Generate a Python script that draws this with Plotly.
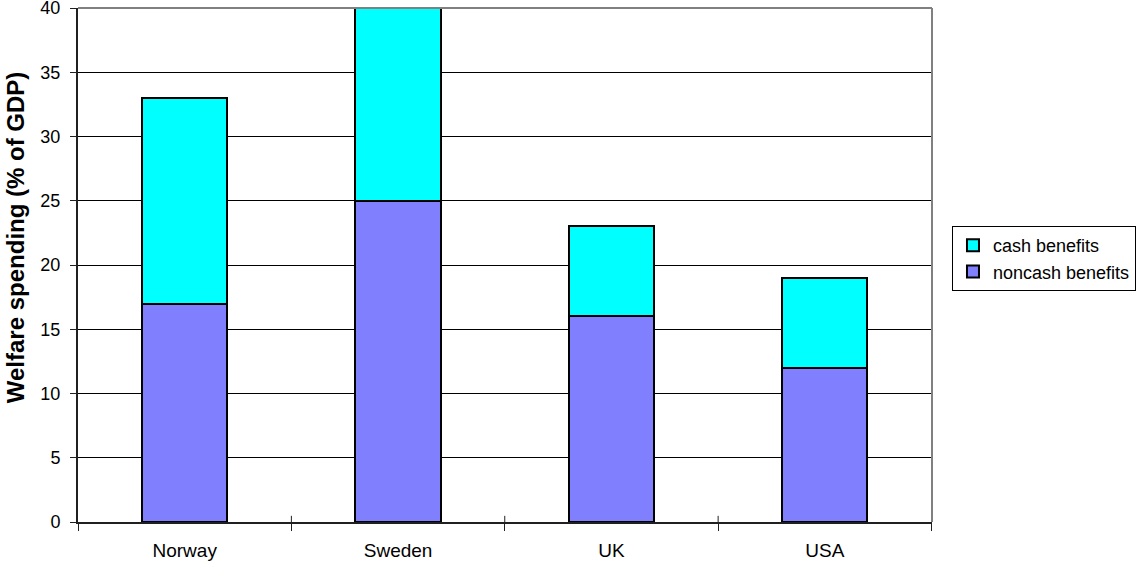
import plotly.graph_objects as go

countries = ["Norway", "Sweden", "UK", "USA"]
noncash = [17, 25, 16, 12]
cash = [16, 15, 7, 7]
y_ticks = [0, 5, 10, 15, 20, 25, 30, 35, 40]
y_title = "Welfare spending (% of GDP)"

FONT = "Liberation Sans, Arial, sans-serif"

fig = go.Figure()
fig.add_trace(go.Bar(x=countries, y=noncash, name="noncash benefits",
                     marker=dict(color="#8080FF", line=dict(color="black", width=2)),
                     width=0.4, legendrank=2))
fig.add_trace(go.Bar(x=countries, y=cash, name="cash benefits",
                     marker=dict(color="#00FFFF", line=dict(color="black", width=2)),
                     width=0.4, legendrank=1))

fig.update_layout(
    barmode="stack",
    width=1136, height=563,
    margin=dict(l=78, r=204, t=8, b=41, autoexpand=False),
    plot_bgcolor="white", paper_bgcolor="white",
    font=dict(family=FONT, size=19, color="black"),
    legend=dict(x=1.0234, y=0.576, xanchor="left", yanchor="top",
                traceorder="normal",
                bordercolor="black", borderwidth=1,
                font=dict(size=18), bgcolor="white", itemwidth=30),
    showlegend=True,
)
fig.update_xaxes(
    tickson="boundaries", ticks="outside", ticklen=7, tickcolor="#202020", tickwidth=1,
    showline=True, linecolor="#202020", linewidth=2,
    showgrid=False, ticklabelstandoff=10,
)
fig.update_yaxes(
    range=[0, 40], tickvals=y_ticks, ticks="outside", ticklen=6, tickcolor="#202020",
    showline=True, linecolor="#202020", linewidth=2,
    showgrid=True, gridcolor="black", gridwidth=1,
    ticklabeloverflow="allow", ticklabelstandoff=6,
    tickfont=dict(size=18),
)
# y-axis title
fig.add_annotation(text="<b>" + y_title + "</b>", textangle=-90,
                   xref="paper", yref="paper", x=-0.0738, y=0.554,
                   xanchor="center", yanchor="middle", showarrow=False,
                   font=dict(size=24, family=FONT, color="black"))
# inner part of category boundary ticks
for b in [0.5, 1.5, 2.5, 3.5]:
    fig.add_shape(type="line", xref="x", yref="paper", x0=b, x1=b, y0=0, y1=0.012,
                  line=dict(color="#202020", width=1))
# gray top and right border of plot area
fig.add_shape(type="line", xref="paper", yref="paper", x0=0, x1=1, y0=1, y1=1,
              line=dict(color="#808080", width=2))
fig.add_shape(type="line", xref="paper", yref="paper", x0=1, x1=1, y0=0, y1=1,
              line=dict(color="#808080", width=2))

fig.write_html("out.html")
